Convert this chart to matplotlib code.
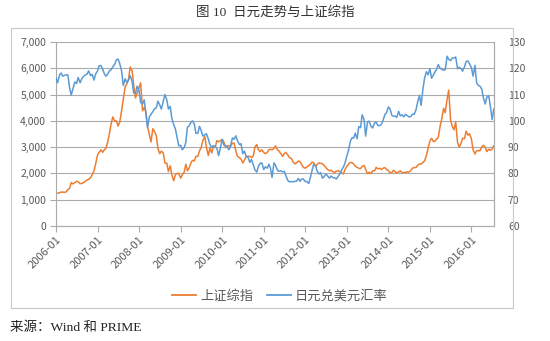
import matplotlib
matplotlib.use('Agg')
import matplotlib.pyplot as plt
import matplotlib.dates as mdates
import matplotlib.patches as patches
from matplotlib.lines import Line2D
import numpy as np
import pandas as pd

plt.rcParams['font.family'] = ['Noto Sans CJK SC', 'DejaVu Sans']

# 上证综指, values on the 1st and 15th of each month
sse_2006 = [1230, 1250, 1260, 1290, 1290, 1280, 1300, 1380, 1440, 1650, 1600, 1650,
            1700, 1680, 1610, 1620, 1650, 1700, 1750, 1780, 1840, 1950, 2100, 2350]
sse_2007 = [2700, 2800, 2900, 2800, 2900, 2950, 3200, 3500, 3900, 4150, 4000, 4000,
            3800, 3950, 4400, 4800, 5300, 5400, 5600, 6050, 5900, 5350, 4870, 5050]
sse_2008 = [5260, 5450, 4380, 4500, 4350, 3800, 3470, 3200, 3700, 3600, 3430, 2950,
            2750, 2850, 2780, 2400, 2390, 2070, 2290, 1950, 1720, 1950, 2000, 2000]
sse_2009 = [1820, 1950, 2050, 2350, 2100, 2200, 2400, 2500, 2480, 2650, 2650, 2850,
            3000, 3250, 3400, 3000, 2680, 2970, 2780, 3000, 3000, 3250, 3200, 3250]
sse_2010 = [3280, 3200, 2980, 3050, 3050, 3030, 3150, 3150, 2850, 2650, 2600, 2550,
            2400, 2500, 2650, 2650, 2650, 2600, 2660, 3000, 3100, 2900, 2830, 2900]
sse_2011 = [2800, 2750, 2800, 2900, 2920, 2900, 2950, 3050, 2900, 2850, 2750, 2650,
            2760, 2800, 2700, 2600, 2570, 2450, 2360, 2400, 2470, 2450, 2330, 2230]
sse_2012 = [2200, 2250, 2300, 2350, 2430, 2400, 2260, 2350, 2400, 2380, 2370, 2300,
            2220, 2150, 2100, 2120, 2060, 2040, 2090, 2100, 2070, 2020, 1980, 2150]
sse_2013 = [2270, 2350, 2420, 2410, 2360, 2280, 2230, 2200, 2180, 2270, 2300, 2150,
            1990, 2050, 1990, 2100, 2100, 2230, 2170, 2200, 2150, 2200, 2220, 2150]
sse_2014 = [2110, 2020, 2040, 2120, 2060, 2030, 2050, 2100, 2030, 2030, 2040, 2060,
            2050, 2100, 2200, 2220, 2230, 2310, 2360, 2360, 2420, 2480, 2680, 2950]
sse_2015 = [3235, 3335, 3210, 3230, 3310, 3370, 3810, 4085, 4480, 4310, 4830, 5170,
            4050, 3800, 3660, 3965, 3166, 3005, 3140, 3338, 3325, 3606, 3456, 3510]
sse_2016 = [3300, 2900, 2740, 2860, 2870, 2860, 3010, 3070, 2990, 2830, 2920, 2880,
            2930, 3050]

# 日元兑美元汇率 (JPY per USD), same dates
jpy_2006 = [116.4, 114.5, 117.5, 118.2, 117.0, 117.3, 117.5, 117.5, 112.5, 109.8, 112.6, 114.8,
            114.2, 116.5, 114.5, 116.0, 116.9, 117.5, 117.8, 119.0, 117.2, 117.7, 115.5, 117.8]
jpy_2007 = [119.0, 121.0, 121.0, 119.7, 118.0, 117.0, 117.8, 119.0, 119.5, 120.5, 121.5, 123.2,
            123.5, 121.8, 118.9, 113.5, 116.0, 114.5, 115.5, 117.2, 115.0, 110.6, 110.5, 113.2]
jpy_2008 = [111.7, 107.0, 106.5, 108.0, 103.0, 97.5, 101.5, 102.5, 103.5, 104.5, 105.0, 107.5,
            106.0, 104.5, 107.5, 110.0, 108.0, 104.5, 105.5, 101.0, 98.5, 97.0, 93.5, 90.5]
jpy_2009 = [90.7, 89.0, 89.9, 91.8, 97.6, 98.0, 99.5, 100.0, 98.8, 95.2, 95.3, 97.9,
            96.3, 94.2, 94.7, 95.1, 93.1, 91.0, 89.8, 90.6, 90.1, 89.6, 86.8, 89.6]
jpy_2010 = [93.0, 90.8, 90.5, 90.0, 89.0, 90.5, 93.5, 93.0, 94.3, 92.5, 91.0, 91.3,
            87.5, 88.5, 86.4, 86.2, 84.2, 85.3, 83.3, 81.4, 80.5, 82.7, 83.9, 84.0]
jpy_2011 = [81.5, 82.5, 82.0, 83.5, 82.0, 78.5, 84.0, 83.1, 81.2, 80.8, 81.0, 80.6,
            80.8, 79.1, 77.3, 76.8, 76.9, 76.8, 77.0, 77.0, 78.1, 77.0, 77.9, 77.9]
jpy_2012 = [76.9, 76.9, 76.2, 78.5, 81.2, 83.5, 82.9, 80.8, 79.8, 80.3, 78.2, 78.8,
            79.8, 79.1, 78.2, 79.0, 78.4, 78.3, 77.9, 78.8, 79.9, 81.3, 82.4, 83.9]
jpy_2013 = [86.7, 88.8, 92.3, 93.6, 93.4, 95.3, 93.2, 97.8, 97.4, 102.3, 100.5, 94.2,
            99.6, 99.9, 97.9, 97.3, 99.2, 99.4, 98.2, 98.2, 98.7, 100.2, 102.4, 103.1]
jpy_2014 = [105.3, 104.5, 102.0, 101.8, 101.8, 101.3, 103.6, 101.9, 102.3, 101.5, 102.5, 102.0,
            101.5, 101.6, 102.6, 102.4, 104.3, 107.2, 109.7, 105.9, 112.3, 116.3, 118.7, 117.5]
jpy_2015 = [119.8, 116.2, 117.5, 118.7, 119.6, 121.4, 120.0, 119.6, 119.3, 119.4, 124.6, 123.4,
            122.9, 123.9, 123.9, 124.3, 119.8, 120.4, 119.9, 118.9, 120.6, 122.6, 122.8, 121.7]
jpy_2016 = [120.2, 117.0, 121.1, 114.5, 113.5, 113.2, 112.0, 108.7, 106.4, 109.0, 109.6, 105.5,
            100.5, 104.5]

sse = (sse_2006 + sse_2007 + sse_2008 + sse_2009 + sse_2010 + sse_2011 +
       sse_2012 + sse_2013 + sse_2014 + sse_2015 + sse_2016)
jpy = (jpy_2006 + jpy_2007 + jpy_2008 + jpy_2009 + jpy_2010 + jpy_2011 +
       jpy_2012 + jpy_2013 + jpy_2014 + jpy_2015 + jpy_2016)
dates = pd.date_range('2006-01-01', periods=len(sse), freq='SMS')

orange = '#ED7D31'
blue = '#5B9BD5'
grey_txt = '#595959'
grid_c = '#ABABAB'

fig = plt.figure(figsize=(5.5, 3.41), dpi=100)

# outer chart border
fig.patches.append(patches.Rectangle((11 / 550, 1 - 308 / 341), 502 / 550, 280 / 341,
                                     transform=fig.transFigure, fill=False,
                                     edgecolor='#C8C8C8', lw=0.8))

ax = fig.add_axes([56 / 550, 115 / 341, 438 / 550, 184 / 341])
ax.plot(dates, sse, color=orange, lw=1.1)
ax.set_ylim(0, 7000)
ax.set_yticks(np.arange(0, 7001, 1000))
ax.yaxis.set_major_formatter(matplotlib.ticker.FuncFormatter(lambda v, p: f'{int(v):,}'))
ax.set_xlim(pd.Timestamp('2006-01-01'), pd.Timestamp('2016-07-17'))
ax.xaxis.set_major_locator(mdates.YearLocator())
ax.xaxis.set_major_formatter(mdates.DateFormatter('%Y-%m'))
ax.grid(axis='y', color=grid_c, lw=0.8)
ax.set_axisbelow(True)
ax.spines['top'].set_visible(False)
for s in ['left', 'bottom', 'right']:
    ax.spines[s].set_color(grid_c)
    ax.spines[s].set_linewidth(0.8)
ax.tick_params(axis='both', colors=grid_c, labelcolor=grey_txt, length=4, width=0.8)
ax.tick_params(axis='y', labelsize=7.5, pad=3)
ax.tick_params(axis='x', labelsize=8, pad=2)
for lab in ax.get_xticklabels():
    lab.set_rotation(45)
    lab.set_ha('right')
    lab.set_rotation_mode('anchor')

ax2 = ax.twinx()
ax2.plot(dates, jpy, color=blue, lw=1.1)
ax2.set_ylim(60, 130)
ax2.set_yticks(np.arange(60, 131, 10))
for s in ['top', 'left', 'bottom']:
    ax2.spines[s].set_visible(False)
ax2.spines['right'].set_color(grid_c)
ax2.spines['right'].set_linewidth(0.8)
ax2.tick_params(axis='y', colors=grid_c, labelcolor=grey_txt, labelsize=7.5,
                length=0, pad=10)

handles = [Line2D([], [], color=orange, lw=1.3), Line2D([], [], color=blue, lw=1.3)]
fig.legend(handles, ['上证综指', '日元兑美元汇率'], loc='center', ncol=2,
           bbox_to_anchor=(280 / 550, 1 - 296 / 341), frameon=False,
           fontsize=9.5, labelcolor=grey_txt, handlelength=1.8, columnspacing=1.1,
           handletextpad=0.3)

serif = ['Liberation Serif', 'Noto Sans CJK SC', 'DejaVu Sans']
fig.text(275 / 550, 1 - 12 / 341, '图 10  日元走势与上证综指', family=serif,
         fontsize=9.7, color='#333333', ha='center', va='center')
fig.text(10 / 550, 1 - 328 / 341, '来源：Wind 和 PRIME', family=serif,
         fontsize=9.7, color='#222222', ha='left', va='center')

fig.savefig('out.png', dpi=100)
